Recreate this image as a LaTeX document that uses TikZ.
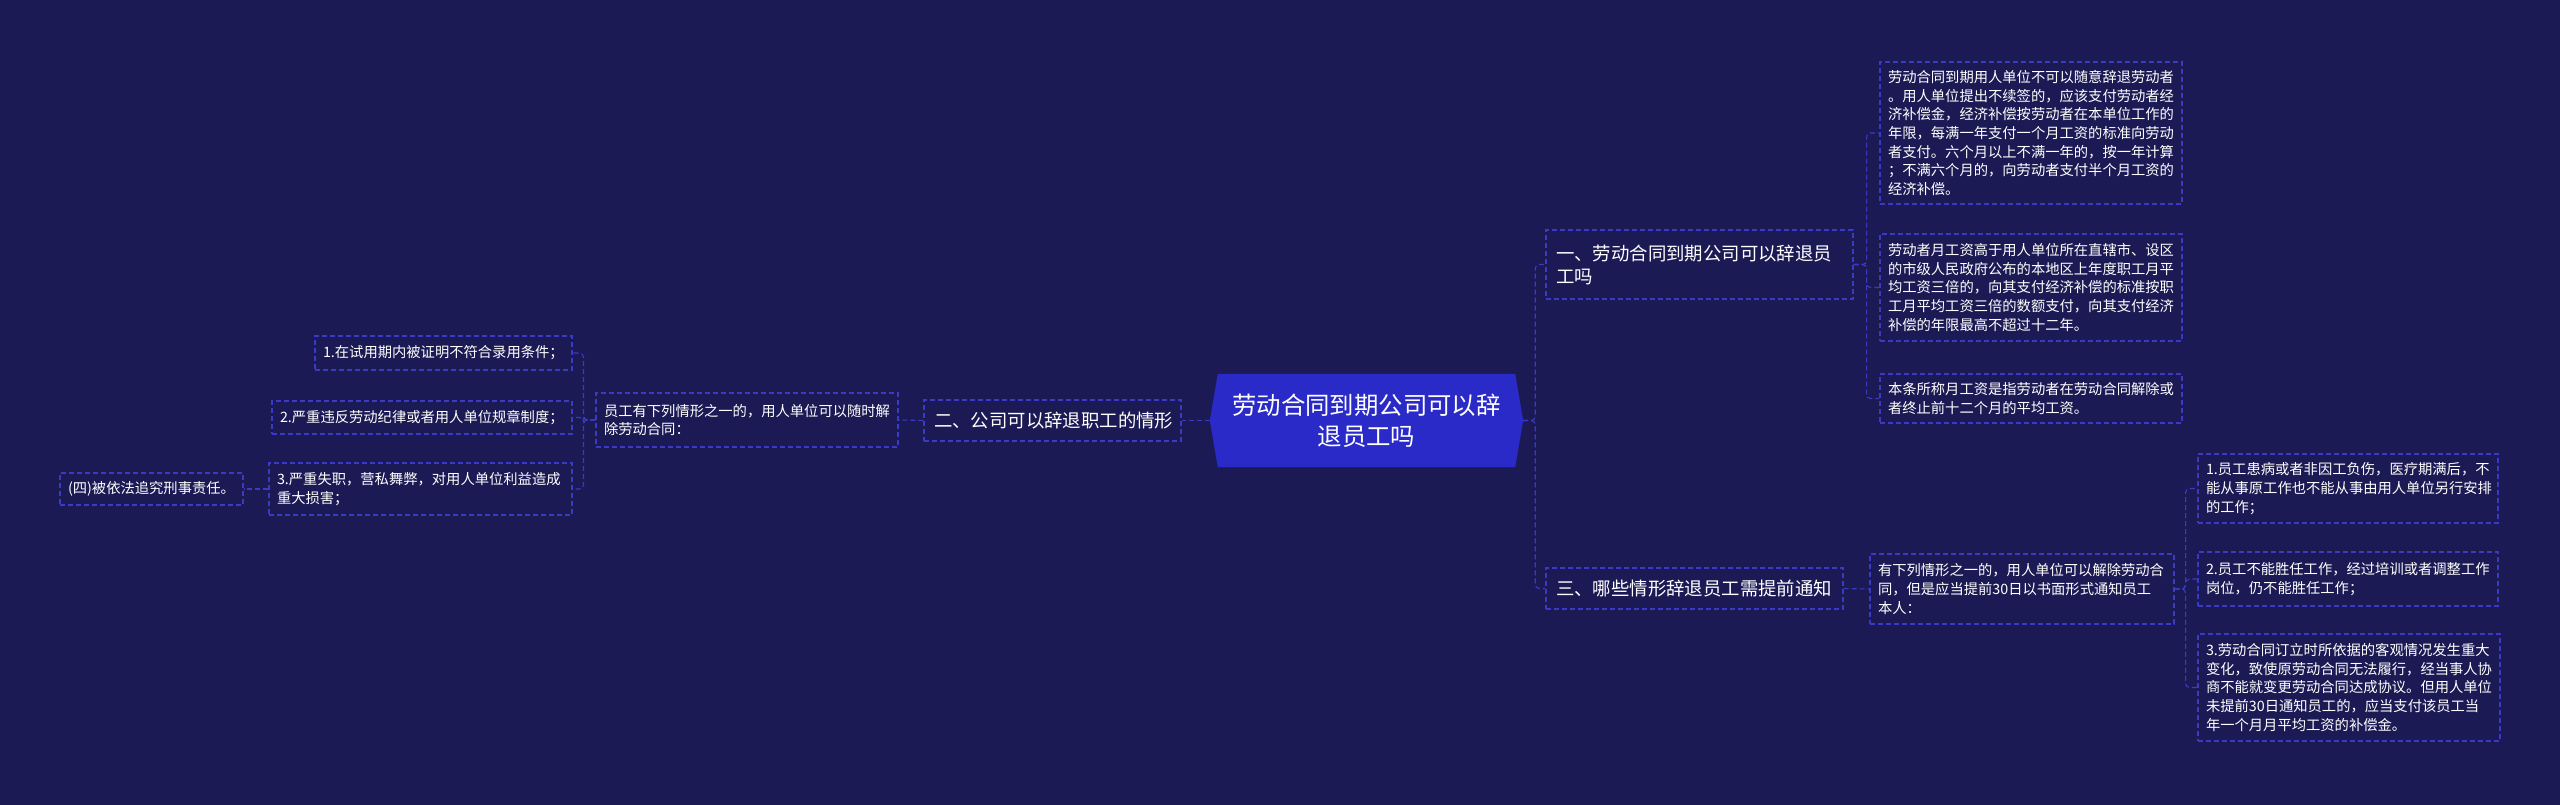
\documentclass[tikz,border=0pt]{standalone}
\usepackage{fontspec}
\newfontfamily\cjk{Noto Sans CJK SC}
\usetikzlibrary{calc,backgrounds}
\definecolor{bgc}{HTML}{1B1A54}
\definecolor{ctrfill}{HTML}{2A2AC8}
\definecolor{lnc}{HTML}{3A3AC4}
\begin{document}
\begin{tikzpicture}[x=1pt,y=-1pt,
  dashbox/.style={draw=lnc, line width=1.1pt, dash pattern=on 5pt off 3pt},
  leaf/.style={dashbox, text=white, align=left, inner xsep=8pt, inner ysep=2pt,
    font=\cjk\fontsize{14.3}{18.7}\selectfont},
  branch/.style={dashbox, text=white, align=left, inner xsep=10pt, inner ysep=2pt,
    font=\cjk\fontsize{18.4}{23}\selectfont},
  root/.style={text=white, align=center, inner sep=0pt,
    font=\cjk\fontsize{24.4}{30.5}\selectfont},
  conn/.style={draw=lnc, line width=1.1pt, dash pattern=on 5pt off 3pt, rounded corners=4pt}]
\useasboundingbox (0,0) rectangle (2560,805);

% root
\node[root, minimum width=313pt, minimum height=93pt] (ctr) at (1366.5,420.5)
  {劳动合同到期公司可以辞\\退员工吗};

% branches
\node[branch, text width=287pt, minimum height=69pt] (b1) at (1699.5,264.5)
  {一、劳动合同到期公司可以辞退员\\工吗};
\node[branch, text width=237pt, minimum height=41pt] (b2) at (1052.5,420.5)
  {二、公司可以辞退职工的情形};
\node[branch, text width=277pt, minimum height=41pt] (b3) at (1694.5,588.5)
  {三、哪些情形辞退员工需提前通知};

% branch 1 leaves
\node[leaf, text width=286pt, minimum height=142pt] (l1a) at (2031,133)
  {劳动合同到期用人单位不可以随意辞退劳动者\\。用人单位提出不续签的，应该支付劳动者经\\济补偿金，经济补偿按劳动者在本单位工作的\\年限，每满一年支付一个月工资的标准向劳动\\者支付。六个月以上不满一年的，按一年计算\\；不满六个月的，向劳动者支付半个月工资的\\经济补偿。};
\node[leaf, text width=286pt, minimum height=107pt] (l1b) at (2031,287.5)
  {劳动者月工资高于用人单位所在直辖市、设区\\的市级人民政府公布的本地区上年度职工月平\\均工资三倍的，向其支付经济补偿的标准按职\\工月平均工资三倍的数额支付，向其支付经济\\补偿的年限最高不超过十二年。};
\node[leaf, text width=286pt, minimum height=49pt] (l1c) at (2031,398.5)
  {本条所称月工资是指劳动者在劳动合同解除或\\者终止前十二个月的平均工资。};

% branch 3
\node[leaf, text width=288pt, minimum height=70pt] (m3) at (2022,589)
  {有下列情形之一的，用人单位可以解除劳动合\\同，但是应当提前30日以书面形式通知员工\\本人：};
\node[leaf, text width=284pt, minimum height=69pt] (c31) at (2348,488.5)
  {1.员工患病或者非因工负伤，医疗期满后，不\\能从事原工作也不能从事由用人单位另行安排\\的工作；};
\node[leaf, text width=284pt, minimum height=54pt] (c32) at (2348,579)
  {2.员工不能胜任工作，经过培训或者调整工作\\岗位，仍不能胜任工作；};
\node[leaf, text width=286pt, minimum height=107pt] (c33) at (2349,687.5)
  {3.劳动合同订立时所依据的客观情况发生重大\\变化，致使原劳动合同无法履行，经当事人协\\商不能就变更劳动合同达成协议。但用人单位\\未提前30日通知员工的，应当支付该员工当\\年一个月月平均工资的补偿金。};

% branch 2
\node[leaf, text width=286pt, minimum height=54pt] (m2) at (747,420)
  {员工有下列情形之一的，用人单位可以随时解\\除劳动合同：};
\node[leaf, text width=241pt, minimum height=34pt] (L1) at (443.5,353)
  {1.在试用期内被证明不符合录用条件；};
\node[leaf, text width=284pt, minimum height=33pt] (L2) at (422,417.5)
  {2.严重违反劳动纪律或者用人单位规章制度；};
\node[leaf, text width=287pt, minimum height=52pt] (L3) at (420.5,489)
  {3.严重失职，营私舞弊，对用人单位利益造成\\重大损害；};
\node[leaf, text width=167pt, minimum height=32pt] (L4) at (151.5,489)
  {(四)被依法追究刑事责任。};

% connectors
\draw[conn] (ctr.east) -- ++(12,0) |- (b1.west);
\draw[conn] (ctr.east) -- ++(12,0) |- (b3.west);
\draw[conn] (ctr.west) -- (b2.east);
\draw[conn] (b1.east) -- ++(13,0) |- (l1a.west);
\draw[conn] (b1.east) -- ++(13,0) |- (l1b.west);
\draw[conn] (b1.east) -- ++(13,0) |- (l1c.west);
\draw[conn] (b3.east) -- (m3.west);
\draw[conn] (m3.east) -- ++(11,0) |- (c31.west);
\draw[conn] (m3.east) -- ++(11,0) |- (c32.west);
\draw[conn] (m3.east) -- ++(11,0) |- (c33.west);
\draw[conn] (b2.west) -- (m2.east);
\draw[conn] (m2.west) -- ++(-12,0) |- (L1.east);
\draw[conn] (m2.west) -- ++(-12,0) |- (L2.east);
\draw[conn] (m2.west) -- ++(-12,0) |- (L3.east);
\draw[conn] (L3.west) -- (L4.east);

\begin{scope}[on background layer]
  \fill[bgc] (0,0) rectangle (2560,805);
  \fill[ctrfill] (ctr.west) -- ($(ctr.north west)+(8,0)$) -- ($(ctr.north east)+(-8,0)$)
    -- (ctr.east) -- ($(ctr.south east)+(-8,0)$) -- ($(ctr.south west)+(8,0)$) -- cycle;
\end{scope}
\end{tikzpicture}
\end{document}
